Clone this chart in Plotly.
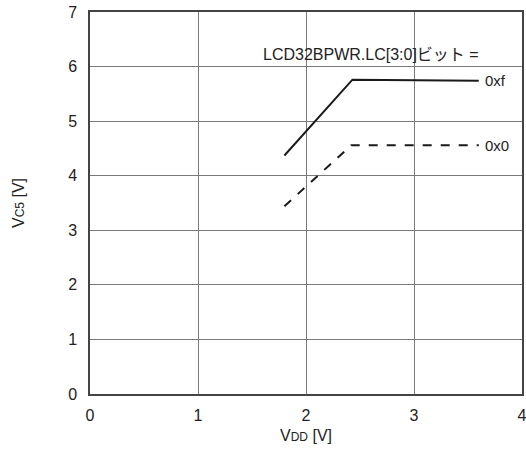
import plotly.graph_objects as go

vdd_0xf = [1.8, 2.43, 3.6]
vc5_0xf = [4.37, 5.76, 5.74]
vdd_0x0 = [1.8, 2.42, 3.6]
vc5_0x0 = [3.44, 4.56, 4.56]
x_ticks = [0, 1, 2, 3, 4]
y_ticks = [0, 1, 2, 3, 4, 5, 6, 7]

fig = go.Figure()
fig.add_trace(go.Scatter(x=vdd_0xf, y=vc5_0xf, mode="lines",
                         line=dict(color="#1a1a1a", width=2), showlegend=False))
fig.add_trace(go.Scatter(x=vdd_0x0, y=vc5_0x0, mode="lines",
                         line=dict(color="#1a1a1a", width=2, dash="dash"), showlegend=False))

fig.add_annotation(x=3.64, y=vc5_0xf[-1], text="0xf", showarrow=False, xanchor="left",
                   font=dict(size=15, color="#222"))
fig.add_annotation(x=3.64, y=vc5_0x0[-1], text="0x0", showarrow=False, xanchor="left",
                   font=dict(size=15, color="#222"))
fig.add_annotation(x=2.6, y=6.23, text="LCD32BPWR.LC[3:0]ビット =", showarrow=False,
                   xanchor="center", font=dict(size=16, color="#222"))

axis_common = dict(showgrid=True, gridcolor="#7a7a7a", gridwidth=1,
                   showline=True, linecolor="#444", linewidth=1.5, mirror=True,
                   zeroline=False, ticks="", tickfont=dict(size=16, color="#222"),
                   automargin=False, ticklabeloverflow="allow")
fig.update_xaxes(range=[0, 4], tickvals=x_ticks, ticklabelstandoff=6,
                 title=dict(text="V<span style='font-size:12px'>DD</span> [V]",
                            font=dict(size=16, color="#222"), standoff=7),
                 **axis_common)
fig.update_yaxes(range=[0, 7], tickvals=y_ticks, ticklabelstandoff=8,
                 title=dict(text="V<span style='font-size:12px'>C5</span> [V]",
                            font=dict(size=16, color="#222"), standoff=40),
                 **axis_common)

fig.update_layout(width=526, height=453, margin=dict(l=90, r=4, t=12, b=59),
                  plot_bgcolor="white", paper_bgcolor="white",
                  font=dict(family="Liberation Sans, Arial, Noto Sans CJK JP, sans-serif"))
fig.write_html("out.html", config={"displayModeBar": False},
               post_script="document.body.style.margin='0';")
